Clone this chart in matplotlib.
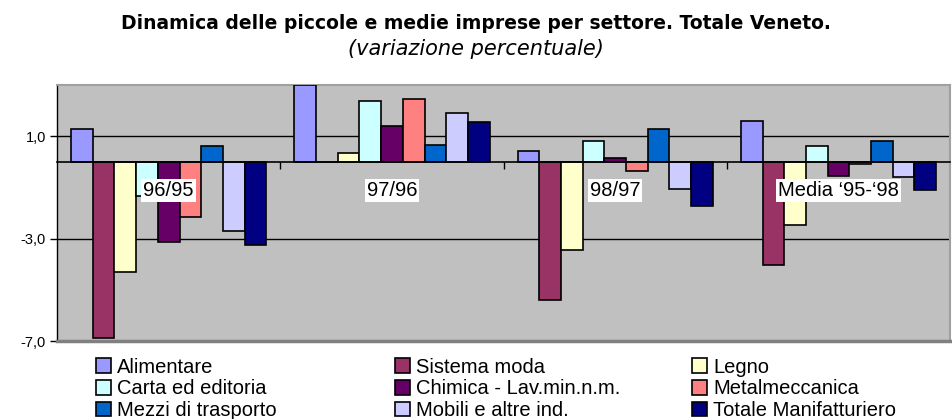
import matplotlib.pyplot as plt
from matplotlib.ticker import FuncFormatter
from matplotlib.patches import Patch
import numpy as np

plt.rcParams['font.family'] = ['Liberation Sans', 'DejaVu Sans']

categorie = ["96/95", "97/96", "98/97", "Media \u201895-\u201898"]
settori = ["Alimentare", "Sistema moda", "Legno", "Carta ed editoria",
           "Chimica - Lav.min.n.m.", "Metalmeccanica", "Mezzi di trasporto",
           "Mobili e altre ind.", "Totale Manifatturiero"]
colori = ["#9999FF", "#993366", "#FFFFCC", "#CCFFFF", "#660066",
          "#FF8080", "#0066CC", "#CCCCFF", "#000080"]

# valori per settore: [96/95, 97/96, 98/97, media]
alimentare = [1.27, 3.0, 0.41, 1.58]
sistema_moda = [-6.87, 0.0, -5.39, -4.04]
legno = [-4.29, 0.33, -3.43, -2.48]
carta = [-1.32, 2.36, 0.80, 0.63]
chimica = [-3.12, 1.42, 0.17, -0.54]
metalmeccanica = [-2.16, 2.44, -0.37, -0.07]
mezzi = [0.63, 0.64, 1.27, 0.80]
mobili = [-2.70, 1.89, -1.06, -0.59]
totale = [-3.26, 1.57, -1.73, -1.09]

serie = [alimentare, sistema_moda, legno, carta, chimica,
         metalmeccanica, mezzi, mobili, totale]

fig = plt.figure(figsize=(9.52, 4.19), dpi=100)
ax = fig.add_axes([0.06, 0.186, 0.938, 0.611])
ax.set_facecolor("#C0C0C0")

x = np.arange(len(categorie))
w = 0.875 / len(serie)
for i, (nome, val) in enumerate(zip(settori, serie)):
    ax.bar(x - 0.4375 + w * (i + 0.5), val, w, color=colori[i],
           edgecolor="black", linewidth=1.2, label=nome, zorder=3)

ax.set_xlim(-0.5, 3.5)
ax.set_ylim(-7, 3)
ax.set_yticks([1, -3, -7])
ax.yaxis.set_major_formatter(FuncFormatter(lambda v, p: f"{v:.1f}".replace(".", ",")))
ax.yaxis.grid(True, color="black", linewidth=1)
ax.set_axisbelow(True)
ax.tick_params(axis="y", direction="out", length=5, width=1, labelsize=10.5, pad=3)

# asse x sullo zero con tacche tra i gruppi
ax.spines["bottom"].set_position(("data", 0))
ax.spines["bottom"].set_linewidth(1.2)
ax.spines["bottom"].set_zorder(4)
ax.set_xticks([0.5, 1.5, 2.5])
ax.set_xticklabels([])
ax.tick_params(axis="x", direction="out", length=5, width=1)
ax.spines["left"].set_linewidth(1)
for s in ["top", "right"]:
    ax.spines[s].set_color("#A0A0A0")
    ax.spines[s].set_linewidth(1.5)
ax.plot([0, 1], [0, 0], transform=ax.transAxes, color="#808080",
        linewidth=2.5, clip_on=False, zorder=5)

for xi, cat in zip(x, categorie):
    ax.text(xi, -1.1, cat, ha="center", va="center", fontsize=14.5, zorder=6,
            bbox=dict(facecolor="white", edgecolor="none", pad=1.5))

fig.text(0.5, 0.945, "Dinamica delle piccole e medie imprese per settore. Totale Veneto.",
         ha="center", va="center", fontsize=13.5, fontweight="bold",
         family="DejaVu Sans")
fig.text(0.5, 0.883, "(variazione percentuale)", ha="center", va="center",
         fontsize=15, style="italic", family="DejaVu Sans")

handles = [Patch(facecolor=c, edgecolor="black", linewidth=1.2) for c in colori]
for col, xpos in enumerate([0.101, 0.415, 0.727]):
    idx = [col, col + 3, col + 6]
    fig.legend([handles[i] for i in idx], [settori[i] for i in idx],
               loc="upper left", bbox_to_anchor=(xpos, 0.146), frameon=False,
               fontsize=14.5, handlelength=0.75, handleheight=0.75,
               handletextpad=0.3, labelspacing=0.13, borderpad=0, borderaxespad=0)

fig.savefig("out.png", dpi=100)
